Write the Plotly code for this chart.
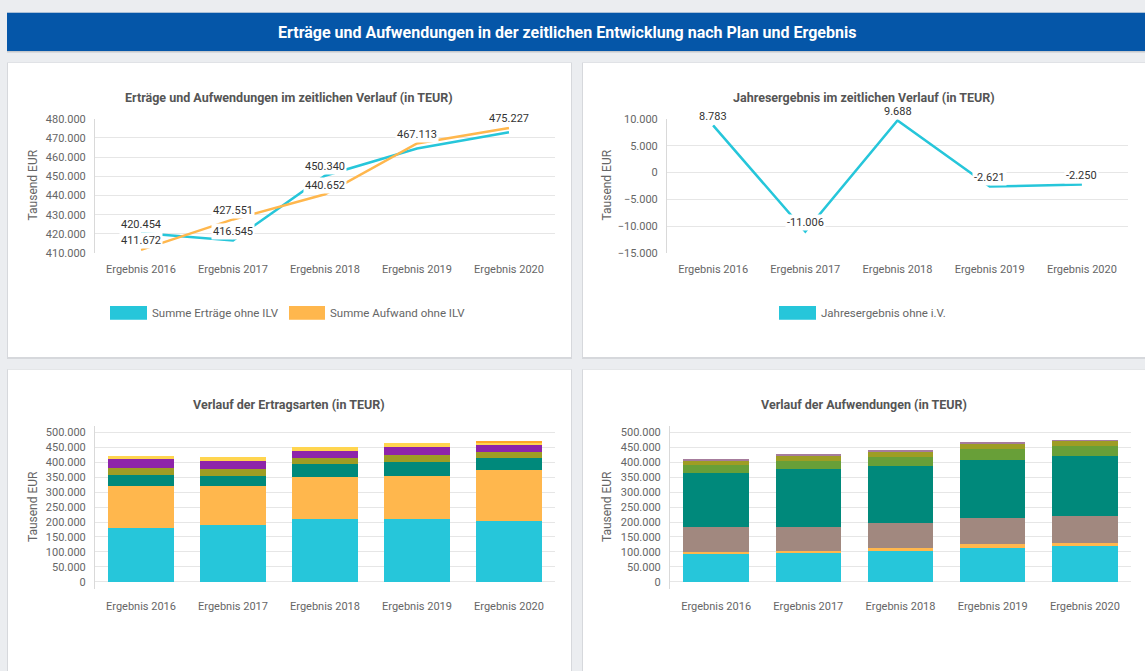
import plotly.graph_objects as go

W, H = 1145, 671

categories = ["Ergebnis 2016", "Ergebnis 2017", "Ergebnis 2018", "Ergebnis 2019", "Ergebnis 2020"]

# top-left lines (TEUR)
ertraege_total = [420454, 416545, 450340, 464492, 472977]
aufwand_total = [411672, 427551, 440652, 467113, 475227]
ertraege_label_show = [True, True, True, False, False]
aufwand_label_show = [True, True, True, True, True]

# top-right line
jahresergebnis = [8783, -11006, 9688, -2621, -2250]

# bottom-left stacked (Ertragsarten)
ertrag_names = ["Ertrag 1", "Ertrag 2", "Ertrag 3", "Ertrag 4", "Ertrag 5", "Ertrag 6", "Ertrag 7"]
ertrag_values = [
    [180500, 189000, 211000, 211000, 203000],
    [139000, 132000, 138500, 144000, 172000],
    [38000, 35000, 44000, 47000, 38500],
    [24500, 21000, 22000, 22000, 21500],
    [28000, 27000, 22000, 29000, 23000],
    [10454, 12545, 12840, 11492, 10000],
    [0, 0, 0, 0, 4977],
]
ertrag_colors = ["#26c6da", "#ffb74d", "#00897b", "#9e9d24", "#8e24aa", "#ffd54f", "#ffa726"]

# bottom-right stacked (Aufwendungen)
aufwand_names = ["Aufwand 1", "Aufwand 2", "Aufwand 3", "Aufwand 4", "Aufwand 5", "Aufwand 6", "Aufwand 7"]
aufwand_values = [
    [92000, 95600, 104000, 114400, 120000],
    [9000, 9000, 9000, 11000, 11000],
    [81500, 80000, 85000, 88000, 89000],
    [181000, 192400, 190000, 193500, 202000],
    [28000, 26500, 29500, 38000, 32000],
    [17000, 20500, 18500, 21000, 20500],
    [3172, 3551, 4652, 1213, 727],
]
aufwand_colors = ["#26c6da", "#ffb74d", "#a1887f", "#00897b", "#689f38", "#9e9d24", "#a67c9c"]

line_names = ["Summe Erträge ohne ILV", "Summe Aufwand ohne ILV"]
jahres_name = "Jahresergebnis ohne i.V."

main_title = "Erträge und Aufwendungen in der zeitlichen Entwicklung nach Plan und Ergebnis"
chart_titles = [
    "Erträge und Aufwendungen im zeitlichen Verlauf (in TEUR)",
    "Jahresergebnis im zeitlichen Verlauf (in TEUR)",
    "Verlauf der Ertragsarten (in TEUR)",
    "Verlauf der Aufwendungen (in TEUR)",
]
y_title = "Tausend EUR"

FONT = "Roboto"
CYAN = "#26c6da"
ORANGE = "#ffb74d"


def px(x):
    return x / W


def py(y):
    return 1 - y / H


fig = go.Figure()

# ---- traces ----
fig.add_trace(go.Scatter(x=categories, y=ertraege_total, mode="lines", line=dict(color=CYAN, width=2.5),
                         showlegend=False, xaxis="x", yaxis="y", hoverinfo="x+y"))
fig.add_trace(go.Scatter(x=categories, y=aufwand_total, mode="lines", line=dict(color=ORANGE, width=2.5),
                         showlegend=False, xaxis="x", yaxis="y", hoverinfo="x+y"))
fig.add_trace(go.Scatter(x=categories, y=jahresergebnis, mode="lines", line=dict(color=CYAN, width=2.5),
                         showlegend=False, xaxis="x2", yaxis="y2", hoverinfo="x+y"))
for name, vals, col in zip(ertrag_names, ertrag_values, ertrag_colors):
    fig.add_trace(go.Bar(x=categories, y=vals, name=name, marker=dict(color=col, line=dict(width=0)),
                         showlegend=False, xaxis="x3", yaxis="y3"))
for name, vals, col in zip(aufwand_names, aufwand_values, aufwand_colors):
    fig.add_trace(go.Bar(x=categories, y=vals, name=name, marker=dict(color=col, line=dict(width=0)),
                         showlegend=False, xaxis="x4", yaxis="y4"))

# ---- axes ----
tickfont = dict(family=FONT, size=11, color="#666666")
GRID = "#e6e6e6"
NCAT = len(categories)


def xax(x0, x1, anchor):
    return dict(domain=[px(x0), px(x1)], anchor=anchor, tickfont=tickfont, showgrid=False,
                range=[-0.5, NCAT - 0.5], autorange=False,
                showline=False, ticks="outside", ticklen=6, tickcolor="rgba(0,0,0,0)",
                fixedrange=True)


def yax(y0, y1, rng, dtick, anchor):
    return dict(domain=[py(y1), py(y0)], anchor=anchor, range=rng, dtick=dtick, tick0=0,
                tickfont=tickfont, gridcolor=GRID, gridwidth=1, showline=True, linecolor="#d9d9d9",
                linewidth=1, zeroline=False, tickformat=",d", ticks="outside", ticklen=6,
                tickcolor="rgba(0,0,0,0)", fixedrange=True)


fig.update_layout(
    xaxis=xax(95, 555, "y"),
    yaxis=yax(115, 252, [410000, 480000], 10000, "x"),
    xaxis2=xax(667, 1128, "y2"),
    yaxis2=yax(115, 252, [-15000, 10000], 5000, "x2"),
    xaxis3=xax(95, 555, "y3"),
    yaxis3=yax(428, 595, [-26000, 523000], 50000, "x3"),
    xaxis4=xax(670, 1131, "y4"),
    yaxis4=yax(428, 595, [-26000, 523000], 50000, "x4"),
)

# ---- background shapes (cards & banner) ----
shapes = []
cards = [(8, 58, 571, 358), (583, 58, 1150, 358), (8, 371, 571, 690), (583, 371, 1150, 690)]
for (x0, y0, x1, y1) in cards:
    shapes.append(dict(type="rect", xref="paper", yref="paper", x0=px(x0 - 1), x1=px(x1 + 1),
                       y0=py(y1 + 2), y1=py(y0 - 0.5), fillcolor="#d6d8dc", line=dict(width=0), layer="below"))
    shapes.append(dict(type="rect", xref="paper", yref="paper", x0=px(x0), x1=px(x1),
                       y0=py(y1), y1=py(y0), fillcolor="#ffffff", line=dict(width=0), layer="below"))
shapes.append(dict(type="rect", xref="paper", yref="paper", x0=px(7), x1=px(1150), y0=py(47.5), y1=py(7),
                   fillcolor="#c5c8cc", line=dict(width=0), layer="below"))
shapes.append(dict(type="rect", xref="paper", yref="paper", x0=px(7), x1=px(1150), y0=py(46), y1=py(7),
                   fillcolor="#0556a8", line=dict(width=0), layer="below"))

annotations = []
annotations.append(dict(text="<b>" + main_title + "</b>", xref="paper", yref="paper", x=px(567), y=py(27),
                        showarrow=False, font=dict(family=FONT, size=16, color="#ffffff"),
                        xanchor="center", yanchor="middle"))

title_pos = [(289, 93), (864, 93), (289, 406), (864, 406)]
for t, (tx, ty) in zip(chart_titles, title_pos):
    annotations.append(dict(text="<b>" + t + "</b>", xref="paper", yref="paper", x=px(tx), y=py(ty),
                            showarrow=False, font=dict(family=FONT, size=12.5, color="#555555"),
                            xanchor="center", yanchor="middle"))

ytitle_pos = [(33, 183), (607, 183), (33, 511), (607, 511)]
for (tx, ty) in ytitle_pos:
    annotations.append(dict(text=y_title, xref="paper", yref="paper", x=px(tx), y=py(ty), textangle=-90,
                            showarrow=False, font=dict(family=FONT, size=12, color="#666666"),
                            xanchor="center", yanchor="middle"))


def fmt(v):
    s = f"{abs(v):,}".replace(",", ".")
    return ("-" if v < 0 else "") + s


lbl_font = dict(family=FONT, size=11, color="#333333")
for series, shows in ((ertraege_total, ertraege_label_show), (aufwand_total, aufwand_label_show)):
    for c, v, sh in zip(categories, series, shows):
        if sh:
            annotations.append(dict(text=fmt(v), x=c, y=v, xref="x", yref="y", showarrow=False, yshift=9,
                                    font=lbl_font, bgcolor="#ffffff", borderpad=1))
for c, v in zip(categories, jahresergebnis):
    annotations.append(dict(text=fmt(v), x=c, y=v, xref="x2", yref="y2", showarrow=False, yshift=9,
                            font=lbl_font, bgcolor="#ffffff", borderpad=1))

# ---- legends (swatch + text) ----
leg_font = dict(family=FONT, size=11.5, color="#666666")
legend_items = [(110, 147, line_names[0], CYAN), (289, 325, line_names[1], ORANGE), (779, 816, jahres_name, CYAN)]
for (x0, x1, name, col) in legend_items:
    shapes.append(dict(type="rect", xref="paper", yref="paper", x0=px(x0), x1=px(x1), y0=py(320), y1=py(306),
                       fillcolor=col, line=dict(width=0)))
    annotations.append(dict(text=name, xref="paper", yref="paper", x=px(x1 + 3), y=py(313), showarrow=False,
                            font=leg_font, xanchor="left", yanchor="middle"))

fig.update_layout(
    width=W, height=H,
    margin=dict(l=0, r=0, t=0, b=0),
    paper_bgcolor="#ebedf0",
    plot_bgcolor="rgba(0,0,0,0)",
    separators=",.",
    barmode="stack",
    bargap=0.29,
    showlegend=False,
    shapes=shapes,
    annotations=annotations,
    font=dict(family=FONT),
)

fig.write_html(
    "out.html",
    config={"displayModeBar": False},
    post_script="document.body.style.margin='0';document.body.style.overflow='hidden';",
)
